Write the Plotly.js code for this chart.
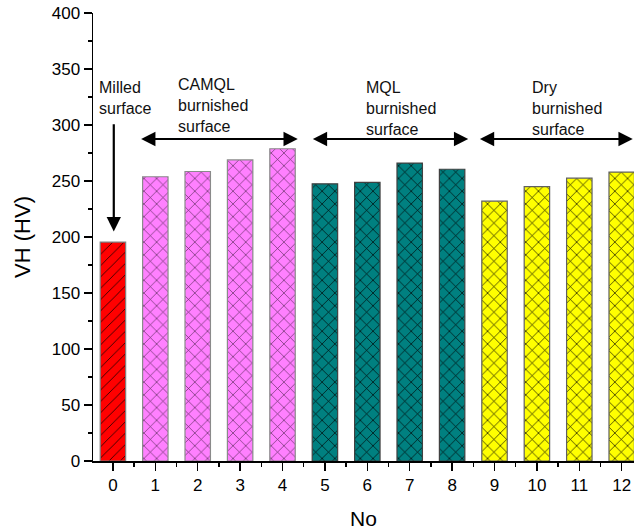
<!DOCTYPE html>
<html>
<head>
<meta charset="utf-8">
<script src="https://cdn.plot.ly/plotly-3.0.1.min.js"></script>
<style>html,body{margin:0;padding:0;background:#fff;}#chart{width:634px;height:530px;}</style>
</head>
<body>
<div id="chart"></div>
<script>
// Data
var sampleNo = [0, 1, 2, 3, 4, 5, 6, 7, 8, 9, 10, 11, 12];
var hardness = [195.5, 253.8, 258.5, 268.8, 278.8, 247.5, 248.8, 266, 260.5, 232, 245, 252.5, 258];
var groups = ['milled', 'camql', 'camql', 'camql', 'camql', 'mql', 'mql', 'mql', 'mql', 'dry', 'dry', 'dry', 'dry'];
var groupOrder = ['milled', 'camql', 'mql', 'dry'];
var groupLabels = {
  milled: 'Milled<br>surface',
  camql: 'CAMQL<br>burnished<br>surface',
  mql: 'MQL<br>burnished<br>surface',
  dry: 'Dry<br>burnished<br>surface'
};

var groupStyle = {
  milled: {color: '#FF0000', shape: '/', fg: '#000000', line: '#7f7f7f', size: 8, solidity: 0.09},
  camql:  {color: '#FF80FF', shape: 'x', fg: '#5a2a5a', line: '#8a8a8a', size: 9, solidity: 0.14},
  mql:    {color: '#008080', shape: 'x', fg: '#000000', line: '#404040', size: 9, solidity: 0.14},
  dry:    {color: '#FFFF00', shape: 'x', fg: '#000000', line: '#606060', size: 9, solidity: 0.14}
};

var traces = groupOrder.map(function(g){
  var xs = [], ys = [];
  sampleNo.forEach(function(n, i){ if (groups[i] === g) { xs.push(n); ys.push(hardness[i]); } });
  var st = groupStyle[g];
  return {
    type: 'bar',
    name: g,
    x: xs,
    y: ys,
    width: 0.6,
    marker: {
      color: st.color,
      line: {color: st.line, width: 1.2},
      pattern: {shape: st.shape, fgcolor: st.fg, bgcolor: st.color, size: st.size, solidity: st.solidity, fillmode: 'replace'}
    },
    hoverinfo: 'x+y'
  };
});

var font = 'Arial, "Liberation Sans", sans-serif';
var txtFont = {family: font, size: 16, color: '#111111'};

var annotations = [
  // text labels
  {x: -0.38, y: 343, xref: 'x', yref: 'y', text: groupLabels.milled, showarrow: false, xanchor: 'left', yanchor: 'top', align: 'left', font: txtFont},
  {x: 1.48, y: 345.5, xref: 'x', yref: 'y', text: groupLabels.camql, showarrow: false, xanchor: 'left', yanchor: 'top', align: 'left', font: txtFont},
  {x: 5.91, y: 342.5, xref: 'x', yref: 'y', text: groupLabels.mql, showarrow: false, xanchor: 'left', yanchor: 'top', align: 'left', font: txtFont},
  {x: 9.83, y: 342.5, xref: 'x', yref: 'y', text: groupLabels.dry, showarrow: false, xanchor: 'left', yanchor: 'top', align: 'left', font: txtFont},
  // milled arrow (down)
  {x: 0.02, y: 205, ax: 0.02, ay: 302, xref: 'x', yref: 'y', axref: 'x', ayref: 'y', text: '', showarrow: true, arrowhead: 2, arrowsize: 1.3, arrowwidth: 2.2, arrowcolor: '#000', standoff: 0, startstandoff: 0},
  // double arrows
  {x: 4.36, y: 287.5, ax: 0.63, ay: 287.5, xref: 'x', yref: 'y', axref: 'x', ayref: 'y', text: '', showarrow: true, arrowside: 'end+start', arrowhead: 2, startarrowhead: 2, arrowsize: 1.3, startarrowsize: 1.3, arrowwidth: 2.2, arrowcolor: '#000', standoff: 0, startstandoff: 0},
  {x: 8.38, y: 287.5, ax: 4.68, ay: 287.5, xref: 'x', yref: 'y', axref: 'x', ayref: 'y', text: '', showarrow: true, arrowside: 'end+start', arrowhead: 2, startarrowhead: 2, arrowsize: 1.3, startarrowsize: 1.3, arrowwidth: 2.2, arrowcolor: '#000', standoff: 0, startstandoff: 0},
  {x: 12.26, y: 287.5, ax: 8.62, ay: 287.5, xref: 'x', yref: 'y', axref: 'x', ayref: 'y', text: '', showarrow: true, arrowside: 'end+start', arrowhead: 2, startarrowhead: 2, arrowsize: 1.3, startarrowsize: 1.3, arrowwidth: 2.2, arrowcolor: '#000', standoff: 0, startstandoff: 0}
];

var layout = {
  width: 634,
  height: 530,
  margin: {l: 93, r: 0, t: 13, b: 69, pad: 0},
  paper_bgcolor: '#ffffff',
  plot_bgcolor: '#ffffff',
  showlegend: false,
  barmode: 'overlay',
  font: {family: font, color: '#000000'},
  xaxis: {
    range: [-0.47, 12.29],
    tickmode: 'linear', tick0: 0, dtick: 1,
    ticks: 'outside', ticklen: 8, tickwidth: 1.5, tickcolor: '#000',
    minor: {dtick: 0.5, tick0: 0, ticks: 'outside', ticklen: 4, tickwidth: 1.5, tickcolor: '#000'},
    showline: true, linecolor: '#000', linewidth: 1.5,
    showgrid: false, zeroline: false,
    tickfont: {family: font, size: 17, color: '#000'},
    title: {text: 'No', font: {family: font, size: 21, color: '#000'}, standoff: 17}
  },
  yaxis: {
    range: [0, 400],
    tickmode: 'linear', tick0: 0, dtick: 50,
    ticks: 'outside', ticklen: 8, tickwidth: 1.5, tickcolor: '#000',
    minor: {dtick: 25, tick0: 0, ticks: 'outside', ticklen: 4, tickwidth: 1.5, tickcolor: '#000'},
    showline: true, linecolor: '#000', linewidth: 1.5,
    showgrid: false, zeroline: false,
    tickfont: {family: font, size: 17, color: '#000'},
    title: {text: 'VH (HV)', font: {family: font, size: 22, color: '#000'}, standoff: 15}
  },
  annotations: annotations
};

Plotly.newPlot('chart', traces, layout, {displayModeBar: false, staticPlot: true});
</script>
</body>
</html>
